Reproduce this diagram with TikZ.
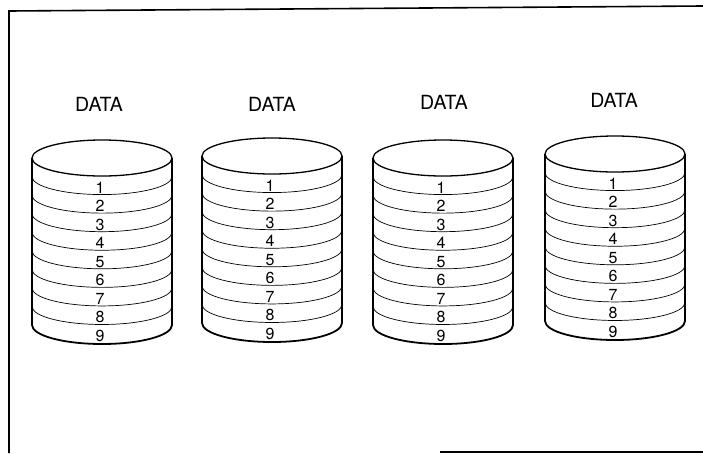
\documentclass[tikz,border=0pt]{standalone}
\usepackage{fontspec}
\setmainfont{TeX Gyre Heros}
\begin{document}
\begin{tikzpicture}[x=1pt,y=1pt,
  side/.style={line width=1.8pt},
  sep/.style={line width=0.7pt},
  rim/.style={line width=1.3pt},
  lbl/.style={font=\fontsize{19.5}{19.5}\selectfont, inner sep=0pt},
  num/.style={font=\fontsize{16}{16}\selectfont, inner sep=0pt, anchor=base}]
\useasboundingbox (0,-453) rectangle (703,0);
\coordinate (tr) at (703,-6);
\coordinate (tl) at (9,-11);
\coordinate (bl) at (9,-453);
\coordinate (b1) at (440,-452);
\coordinate (b2) at (703,-452);
\draw[line width=1.6pt] (tr) -- (tl) -- (bl);
\draw[line width=1.4pt] (b1) -- (b2);
\foreach \i/\cx/\yc/\lx/\ly in {1/102/158/99/104.5, 2/272/156/272/104, 3/443/158/444/102.5, 4/615/154/614/100} {
  \node[lbl] (data\i) at (\lx,-\ly) {DATA};
  \draw[rim] (\cx,-\yc) ellipse [x radius=70, y radius=18];
  \foreach \k in {1,...,8}
    \draw[sep] (\cx-70,-\yc-18.56*\k) arc[start angle=180,end angle=360,x radius=70,y radius=18];
  \draw[side] (\cx-70,-\yc) -- (\cx-70,-\yc-167) arc[start angle=180,end angle=360,x radius=70,y radius=19] -- (\cx+70,-\yc);
  \foreach \k in {1,...,9}
    \node[num] (n\i-\k) at (\cx-2,-\yc-18-18.56*\k+1.5) {\k};
}
\end{tikzpicture}
\end{document}
